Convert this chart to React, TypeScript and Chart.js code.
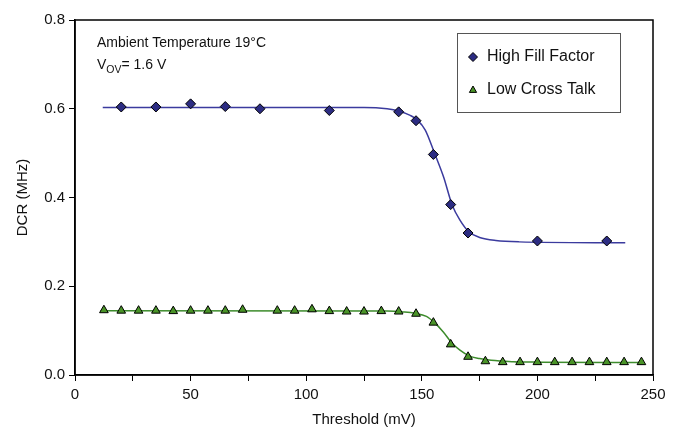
import React, { useEffect, useRef } from "react";
import { Chart, registerables } from "chart.js";

Chart.register(...registerables);

// High Fill Factor measurements
const hffX = [20, 35, 50, 65, 80, 110, 140, 147.5, 155, 162.5, 170, 200, 230];
const hffY = [0.604, 0.604, 0.611, 0.605, 0.600, 0.596, 0.593, 0.573, 0.497, 0.384, 0.320, 0.302, 0.302];

// Low Cross Talk measurements
const lctX = [12.5, 20, 27.5, 35, 42.5, 50, 57.5, 65, 72.5, 87.5, 95, 102.5, 110, 117.5, 125,
  132.5, 140, 147.5, 155, 162.5, 170, 177.5, 185, 192.5, 200, 207.5, 215, 222.5, 230, 237.5, 245];
const lctY = [0.146, 0.145, 0.145, 0.145, 0.144, 0.145, 0.145, 0.145, 0.147, 0.145, 0.145, 0.148, 0.144, 0.143, 0.143,
  0.144, 0.143, 0.138, 0.118, 0.069, 0.041, 0.031, 0.029, 0.029, 0.029, 0.029, 0.029, 0.029, 0.029, 0.029, 0.029];

// Fitted curves
const hffFitX = [12, 125, 135, 140, 145, 148, 151.5, 155.5, 159.5, 163, 166.5, 170.5, 175, 182, 192, 238];
const hffFitY = [0.603, 0.603, 0.600, 0.595, 0.585, 0.575, 0.552, 0.500, 0.445, 0.385, 0.349, 0.322, 0.310, 0.303, 0.300, 0.298];
const lctFitX = [11, 135, 142, 147, 152, 155.5, 159.3, 163, 166.5, 170.5, 175, 180, 189.5, 200, 246];
const lctFitY = [0.145, 0.144, 0.142, 0.139, 0.132, 0.118, 0.097, 0.072, 0.056, 0.043, 0.037, 0.033, 0.030, 0.029, 0.028];

const seriesNames = ["High Fill Factor", "Low Cross Talk"];
const xTitle = "Threshold (mV)";
const yTitle = "DCR (MHz)";
const noteLine1 = "Ambient Temperature 19°C";
const noteV = "V";
const noteSub = "OV";
const noteRest = "= 1.6 V";

const FONT = "'Liberation Sans', Arial, sans-serif";
const HFF_FILL = "#2c2c82";
const HFF_LINE = "#3b3b9e";
const LCT_FILL = "#4a9428";
const LCT_LINE = "#3d8c2c";

const zip = (xs: number[], ys: number[]) => xs.map((x, i) => ({ x, y: ys[i] }));

const framePlugin = {
  id: "frameAndNotes",
  afterDraw(chart: any) {
    const { ctx, chartArea } = chart;
    ctx.save();
    // plot frame
    ctx.strokeStyle = "#000";
    ctx.lineWidth = 1.5;
    ctx.strokeRect(chartArea.left, chartArea.top, chartArea.right - chartArea.left, chartArea.bottom - chartArea.top);

    // annotation
    ctx.fillStyle = "#111";
    ctx.textBaseline = "middle";
    ctx.textAlign = "left";
    ctx.font = `14px ${FONT}`;
    const ax = 97;
    ctx.fillText(noteLine1, ax, 43);
    ctx.fillText(noteV, ax, 65);
    const vw = ctx.measureText(noteV).width;
    ctx.font = `10.5px ${FONT}`;
    ctx.fillText(noteSub, ax + vw, 70);
    const sw = ctx.measureText(noteSub).width;
    ctx.font = `14px ${FONT}`;
    ctx.fillText(noteRest, ax + vw + sw, 65);

    // legend
    const lx = 457, ly = 33, lw = 163, lh = 79;
    ctx.fillStyle = "#fff";
    ctx.fillRect(lx, ly, lw, lh);
    ctx.strokeStyle = "#555";
    ctx.lineWidth = 1;
    ctx.strokeRect(lx + 0.5, ly + 0.5, lw, lh);
    const items = chart.data.datasets.filter((d: any) => d.inLegend);
    items.forEach((d: any, i: number) => {
      const y = ly + 24 + i * 33;
      ctx.fillStyle = d.backgroundColor;
      ctx.strokeStyle = "#000";
      ctx.lineWidth = 1;
      ctx.beginPath();
      if (d.pointStyle === "rectRot") {
        const r = 4.5;
        ctx.moveTo(473, y - r); ctx.lineTo(473 + r, y); ctx.lineTo(473, y + r); ctx.lineTo(473 - r, y); ctx.closePath();
      } else {
        const r = 4;
        ctx.moveTo(473, y - r); ctx.lineTo(473 + r * 0.9, y + r * 0.6); ctx.lineTo(473 - r * 0.9, y + r * 0.6); ctx.closePath();
      }
      ctx.fill(); ctx.stroke();
      ctx.fillStyle = "#111";
      ctx.font = `16px ${FONT}`;
      ctx.fillText(d.label, 487, y);
    });
    ctx.restore();
  },
};

export default function App() {
  const ref = useRef<HTMLCanvasElement | null>(null);
  useEffect(() => {
    if (!ref.current) return;
    const chart = new Chart(ref.current, {
      type: "scatter",
      data: {
        datasets: [
          {
            label: seriesNames[0], inLegend: true, data: zip(hffX, hffY), showLine: false,
            pointStyle: "rectRot", pointRadius: 5, backgroundColor: HFF_FILL, borderColor: "#000",
            pointBorderWidth: 1, order: 0,
          } as any,
          {
            label: seriesNames[1], inLegend: true, data: zip(lctX, lctY), showLine: false,
            pointStyle: "triangle", pointRadius: 5, backgroundColor: LCT_FILL, borderColor: "#000",
            pointBorderWidth: 1, order: 0,
          } as any,
          {
            label: "hff-fit", data: zip(hffFitX, hffFitY), showLine: true, pointRadius: 0,
            borderColor: HFF_LINE, borderWidth: 1.5, cubicInterpolationMode: "monotone", order: 1,
          } as any,
          {
            label: "lct-fit", data: zip(lctFitX, lctFitY), showLine: true, pointRadius: 0,
            borderColor: LCT_LINE, borderWidth: 1.5, cubicInterpolationMode: "monotone", order: 1,
          } as any,
        ],
      },
      options: {
        responsive: false,
        animation: false,
        devicePixelRatio: 1,
        layout: { padding: { left: 0, top: 20, right: 30, bottom: 0 } },
        plugins: { legend: { display: false }, tooltip: { enabled: false } },
        scales: {
          x: {
            type: "linear", min: 0, max: 250,
            afterFit: (s: any) => { s.height = 54; },
            border: { display: true, color: "#000", width: 1.5 },
            grid: { drawOnChartArea: false, drawTicks: true, tickLength: 6, color: "#000", lineWidth: 1 },
            ticks: {
              stepSize: 25, autoSkip: false, maxRotation: 0, color: "#111", padding: 5,
              font: { family: FONT, size: 15 },
              callback: (v: any) => (Number(v) % 50 === 0 ? String(v) : ""),
            },
            title: { display: true, text: xTitle, color: "#111", font: { family: FONT, size: 15 }, padding: { top: 0, bottom: 0 } },
          },
          y: {
            type: "linear", min: 0, max: 0.8,
            afterFit: (s: any) => { s.width = 75; },
            border: { display: true, color: "#000", width: 1.5 },
            grid: { drawOnChartArea: false, drawTicks: true, tickLength: 6, color: "#000", lineWidth: 1 },
            ticks: {
              stepSize: 0.2, color: "#111", padding: 4,
              font: { family: FONT, size: 15 },
              callback: (v: any) => Number(v).toFixed(1),
            },
            title: { display: true, text: yTitle, color: "#111", font: { family: FONT, size: 15 }, padding: { top: 14, bottom: 0 } },
          },
        },
      } as any,
      plugins: [framePlugin],
    });
    return () => chart.destroy();
  }, []);
  return (
    <div style={{ position: "fixed", left: 0, top: 0, width: 683, height: 429, background: "#fff" }}>
      <canvas ref={ref} width={683} height={429} style={{ width: 683, height: 429, display: "block" }} />
    </div>
  );
}
